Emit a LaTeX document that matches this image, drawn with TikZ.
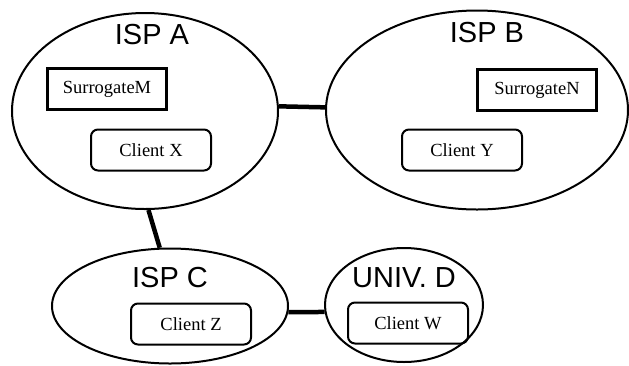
\documentclass[tikz,border=0pt]{standalone}
\usepackage{fontspec}
\setmainfont{Liberation Serif}
\newfontfamily\labelfont{Liberation Sans}
\usetikzlibrary{shapes.geometric}

\begin{document}
\begin{tikzpicture}[x=1pt,y=-1pt,
  isp/.style={draw,ellipse,line width=2pt,inner sep=0pt},
  ispname/.style={font=\labelfont\fontsize{29}{29}\selectfont},
  surr/.style={draw,line width=2.2pt,minimum width=119pt,minimum height=41pt,font=\fontsize{18.5}{18.5}\selectfont},
  client/.style={draw,rounded corners=7pt,line width=2pt,minimum width=120pt,minimum height=41pt,font=\fontsize{18.5}{18.5}\selectfont},
  link/.style={line width=4.5pt}]
\useasboundingbox (0,0) rectangle (629,365);
% ISPs
\node[isp,minimum width=266pt,minimum height=196pt] (ispA) at (145,111) {};
\node[isp,minimum width=302pt,minimum height=199pt] (ispB) at (477,110) {};
\node[isp,minimum width=236pt,minimum height=115pt] (ispC) at (170,306) {};
\node[isp,minimum width=158pt,minimum height=114pt] (univD) at (404,305) {};
\node[ispname] (nameA) at (152,35) {ISP A};
\node[ispname] (nameB) at (487,33) {ISP B};
\node[ispname] (nameC) at (170,278) {ISP C};
\node[ispname] (nameD) at (404,278) {UNIV. D};
% surrogates and clients
\node[surr] (surrM) at (107,89) {SurrogateM};
\node[surr] (surrN) at (537,90) {SurrogateN};
\node[client] (clientX) at (151,150) {Client X};
\node[client] (clientY) at (462,150) {Client Y};
\node[client] (clientZ) at (191,324) {Client Z};
\node[client] (clientW) at (408,323) {Client W};
% links
\draw[link] (ispA.2) -- (ispB.179);
\draw[link] (ispA.272) -- (ispC.100);
\draw[link] (ispC.357) -- (univD.185);
\end{tikzpicture}
\end{document}
